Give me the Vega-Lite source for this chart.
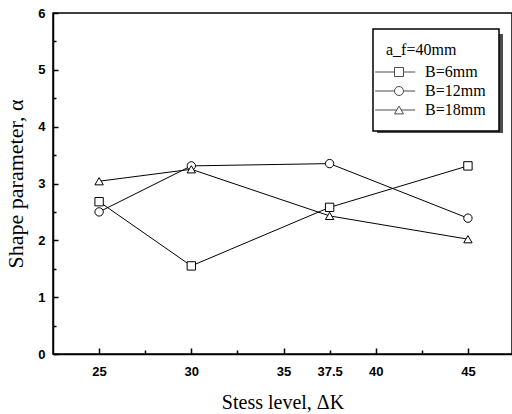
{
  "$schema": "https://vega.github.io/schema/vega-lite/v6.json",
  "width": 459,
  "height": 341,
  "autosize": "none",
  "padding": {"left": 53, "top": 13, "right": 0, "bottom": 60},
  "background": "white",
  "config": {
    "view": {"stroke": "black", "strokeWidth": 1.5},
    "axis": {
      "domainColor": "black", "domainWidth": 1.5,
      "tickColor": "black", "tickWidth": 1.5,
      "labelFont": "Liberation Sans", "labelFontWeight": "bold", "labelFontSize": 13, "labelColor": "black",
      "titleFont": "Liberation Serif", "titleFontWeight": "normal", "titleFontSize": 20, "titleColor": "black",
      "grid": false
    },
    "legend": {"strokeWidth": 1.5}
  },
  "data": {
    "values": [
      {"K": 25, "alpha": 2.68, "B": "B=6mm"},
      {"K": 30, "alpha": 1.55, "B": "B=6mm"},
      {"K": 37.5, "alpha": 2.58, "B": "B=6mm"},
      {"K": 45, "alpha": 3.31, "B": "B=6mm"},
      {"K": 25, "alpha": 2.5, "B": "B=12mm"},
      {"K": 30, "alpha": 3.31, "B": "B=12mm"},
      {"K": 37.5, "alpha": 3.35, "B": "B=12mm"},
      {"K": 45, "alpha": 2.39, "B": "B=12mm"},
      {"K": 25, "alpha": 3.04, "B": "B=18mm"},
      {"K": 30, "alpha": 3.25, "B": "B=18mm"},
      {"K": 37.5, "alpha": 2.43, "B": "B=18mm"},
      {"K": 45, "alpha": 2.02, "B": "B=18mm"}
    ]
  },
  "encoding": {
    "x": {
      "field": "K", "type": "quantitative",
      "scale": {"domain": [22.5, 47.39], "nice": false, "zero": false},
      "axis": {
        "title": "Stess level, ΔK",
        "values": [25, 27.5, 30, 32.5, 35, 37.5, 40, 42.5, 45],
        "format": ".1~f",
        "labelExpr": "indexof([27.5, 32.5, 42.5], datum.value) >= 0 ? '' : datum.label",
        "tickSize": {"condition": {"test": "indexof([27.5, 32.5, 37.5, 42.5], datum.value) >= 0", "value": -4}, "value": -6},
        "labelPadding": {"condition": {"test": "indexof([27.5, 32.5, 37.5, 42.5], datum.value) >= 0", "value": 15}, "value": 17},
        "titlePadding": 14
      }
    },
    "y": {
      "field": "alpha", "type": "quantitative",
      "scale": {"domain": [0, 6], "nice": false},
      "axis": {
        "title": "Shape parameter, α",
        "values": [0, 0.5, 1, 1.5, 2, 2.5, 3, 3.5, 4, 4.5, 5, 5.5, 6],
        "format": ".1~f",
        "labelExpr": "datum.value % 1 ? '' : datum.label",
        "tickSize": {"condition": {"test": "datum.value % 1 !== 0", "value": -3}, "value": -5},
        "labelPadding": 13,
        "titlePadding": 10,
        "titleFontSize": 22
      }
    }
  },
  "layer": [
    {
      "mark": {"type": "line", "color": "black", "strokeWidth": 1},
      "encoding": {"detail": {"field": "B"}}
    },
    {
      "mark": {"type": "point", "filled": true, "fill": "white", "stroke": "black", "strokeWidth": 1, "size": 70, "opacity": 1},
      "encoding": {
        "shape": {
          "field": "B", "type": "nominal",
          "scale": {"domain": ["B=6mm", "B=12mm", "B=18mm"], "range": ["square", "circle", "triangle-up"]},
          "legend": null
        }
      }
    },
    {
      "transform": [{"filter": "datum.alpha > 100"}],
      "mark": {"type": "point", "filled": true, "size": 81},
      "encoding": {
        "color": {
          "field": "alpha", "type": "quantitative",
          "scale": {"domain": [0, 1], "range": ["black", "black"]},
          "legend": {
            "type": "gradient", "direction": "vertical",
            "title": null,
            "orient": "none", "legendX": 324, "legendY": 21,
            "gradientLength": 99, "gradientThickness": 126,
            "gradientStrokeColor": "black", "gradientStrokeWidth": 0,
            "labelExpr": "''", "labelOffset": 0, "tickCount": 1,
            "padding": 0
          }
        }
      }
    },
    {
      "transform": [{"filter": "datum.alpha > 100"}],
      "mark": {"type": "point", "filled": false, "color": "black", "strokeWidth": 1, "size": 81},
      "encoding": {
        "shape": {
          "field": "B", "type": "nominal",
          "scale": {
            "domain": ["B=6mm", "B=12mm", "B=18mm"],
            "range": [
              "M -5.3 0 L -1 0 M 1 0 L 3.6 0 M -1 -1 L 1 -1 L 1 1 L -1 1 Z",
              "M -5.3 0 L -1 0 M 1 0 L 3.6 0 M 1 0 A 1 1 0 1 1 -1 0 A 1 1 0 1 1 1 0 Z",
              "M -5.3 0 L -0.5 0 M 0.5 0 L 3.6 0 M 0 -0.87 L -1 0.87 L 1 0.87 Z"
            ]
          },
          "legend": {
            "title": "a_f=40mm",
            "orient": "none", "legendX": 320, "legendY": 16,
            "symbolFillColor": "white", "symbolStrokeColor": "black", "symbolStrokeWidth": 1, "symbolSize": 81,
            "symbolOffset": 5,
            "labelFont": "Liberation Serif", "labelFontSize": 16, "labelColor": "black", "labelLimit": 0, "labelOffset": 18,
            "titleFont": "Liberation Serif", "titleFontSize": 16, "titleFontWeight": "normal", "titleColor": "black",
            "padding": 13, "strokeColor": "black", "fillColor": "white",
            "rowPadding": 3, "titlePadding": 6,
            "encode": {"symbols": {"update": {"fill": {"value": "white"}, "stroke": {"value": "black"}, "strokeWidth": {"value": 1}, "opacity": {"value": 1}, "size": {"value": 81}}}}
          }
        }
      }
    }
  ],
  "resolve": {"scale": {"shape": "independent", "color": "independent"}}
}
